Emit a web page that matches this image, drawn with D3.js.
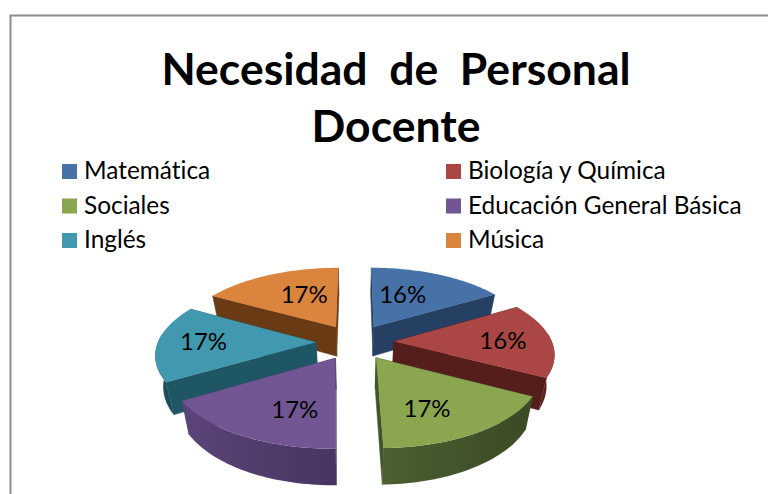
<!DOCTYPE html>
<html>
<head>
<meta charset="utf-8">
<script src="https://cdn.jsdelivr.net/npm/d3@7"></script>
<style>
  html, body { margin: 0; padding: 0; background: #fff; }
  svg { display: block; }
  text { font-family: Lato, "Open Sans", sans-serif; fill: #000; font-variant-ligatures: none; }
</style>
</head>
<body>
<div id="chart"></div>
<script>
var categories = ["Matemática", "Biología y Química", "Sociales", "Educación General Básica", "Inglés", "Música"];
var values = [16.4, 16.4, 16.9, 16.7, 16.8, 16.8];
var topColors = ["#4672a8", "#aa4744", "#8aa64e", "#715693", "#4198af", "#db843d"];
var sideColors = ["#264064", "#551e1d", "#42542a", "#513c6c", "#1f5666", "#6a3a14"];
var titleLines = ["Necesidad  de  Personal", "Docente"];

var width = 768, height = 494;

// pie geometry
var cx = 355, cy = 342;
var radius = 158, explode = 39, depth = 30;
var tilt = 0.456, persp = 0.00093, squeeze = 0.04;
// where each percent sits inside its slice: fraction of radius, turn from the middle (deg)
var labelRadius = [0.53, 0.69, 0.68, 0.66, 0.71, 0.54];
var labelTurn = [-6, 1.4, 8, -10, 0, 5];

var svg = d3.select("#chart").append("svg")
  .attr("width", width)
  .attr("height", height);

var defs = svg.append("defs");

// frame, runs off the page on the right and at the bottom
svg.append("path")
  .attr("d", "M10.5,494V15.5H768")
  .attr("fill", "none")
  .attr("stroke", "#8c8c8c")
  .attr("stroke-width", 2);

// title
svg.selectAll(".title")
  .data(titleLines)
  .enter().append("text")
  .attr("class", "title")
  .attr("x", 396)
  .attr("y", function(d, i) { return 85 + i * 57; })
  .attr("text-anchor", "middle")
  .style("white-space", "pre")
  .attr("font-size", 44.5)
  .attr("font-weight", 700)
  .text(function(d) { return d; });

// legend
var legend = svg.selectAll(".legend")
  .data(categories)
  .enter().append("g")
  .attr("class", "legend")
  .attr("transform", function(d, i) {
    return "translate(" + (i % 2 ? 446 : 62) + "," + (164 + Math.floor(i / 2) * 34.5) + ")";
  });

legend.append("rect")
  .attr("width", 15)
  .attr("height", 15)
  .attr("fill", function(d, i) { return topColors[i]; });

legend.append("text")
  .attr("x", 22)
  .attr("y", 15)
  .attr("font-size", 24.4)
  .text(function(d) { return d; });

// ground coords (u right, v toward viewer, z down) to screen
function project(u, v, z) {
  var s = 1 / (1 - persp * v);
  return [cx + u * s * (1 - squeeze * z / depth), cy + (tilt * v + z) * s];
}

var pie = d3.pie().sort(null).value(function(d) { return d; });
var arcs = pie(values);
var line = d3.line();
var pieGroup = svg.append("g");

function slicePoint(a, mid, r, ang, z) {
  var u = explode * Math.sin(mid) + r * Math.sin(ang);
  var v = -explode * Math.cos(mid) - r * Math.cos(ang);
  return project(u, v, z);
}

// back slices first
var drawOrder = [0, 5, 1, 4, 2, 3];

drawOrder.forEach(function(i) {
  var a = arcs[i];
  var mid = (a.startAngle + a.endAngle) / 2;
  var g = pieGroup.append("g");
  var steps = d3.range(0, 41).map(function(k) {
    return d3.interpolateNumber(a.startAngle, a.endAngle)(k / 40);
  });

  // radial walls
  [a.startAngle, a.endAngle].forEach(function(ang) {
    var quad = [
      slicePoint(a, mid, 0, ang, 0),
      slicePoint(a, mid, radius, ang, 0),
      slicePoint(a, mid, radius, ang, depth),
      slicePoint(a, mid, 0, ang, depth)
    ];
    g.append("path")
      .attr("d", line(quad) + "Z")
      .attr("fill", sideColors[i])
      .attr("stroke", sideColors[i])
      .attr("stroke-width", 0.5);
  });

  // outer wall, lighter toward the left
  var rim = steps.filter(function(ang) { return Math.cos(ang) <= 0.12; });
  if (rim.length > 1) {
    var upper = rim.map(function(ang) { return slicePoint(a, mid, radius, ang, 0); });
    var lower = rim.map(function(ang) { return slicePoint(a, mid, radius, ang, depth); }).reverse();
    var xs = d3.extent(upper, function(p) { return p[0]; });
    var base = d3.rgb(sideColors[i]);
    var grad = defs.append("linearGradient")
      .attr("id", "rim" + i)
      .attr("gradientUnits", "userSpaceOnUse")
      .attr("x1", xs[0]).attr("x2", xs[1])
      .attr("y1", 0).attr("y2", 0);
    grad.append("stop").attr("offset", 0).attr("stop-color", base.brighter(0.35).formatHex());
    grad.append("stop").attr("offset", 1).attr("stop-color", base.darker(0.35).formatHex());
    g.append("path")
      .attr("d", line(upper.concat(lower)) + "Z")
      .attr("fill", "url(#rim" + i + ")");
  }

  // top face
  var face = [slicePoint(a, mid, 0, a.startAngle, 0)].concat(steps.map(function(ang) {
    return slicePoint(a, mid, radius, ang, 0);
  }));
  g.append("path")
    .attr("d", line(face) + "Z")
    .attr("fill", topColors[i]);
});

// percent labels
pieGroup.selectAll(".pct")
  .data(arcs)
  .enter().append("text")
  .attr("class", "pct")
  .attr("text-anchor", "middle")
  .attr("font-size", 24)
  .attr("transform", function(d, i) {
    var mid = (d.startAngle + d.endAngle) / 2;
    var pt = slicePoint(d, mid, radius * labelRadius[i], mid + labelTurn[i] * Math.PI / 180, 0);
    return "translate(" + pt[0] + "," + (pt[1] + 7) + ")";
  })
  .text(function(d) { return Math.round(d.data) + "%"; });
</script>
</body>
</html>
